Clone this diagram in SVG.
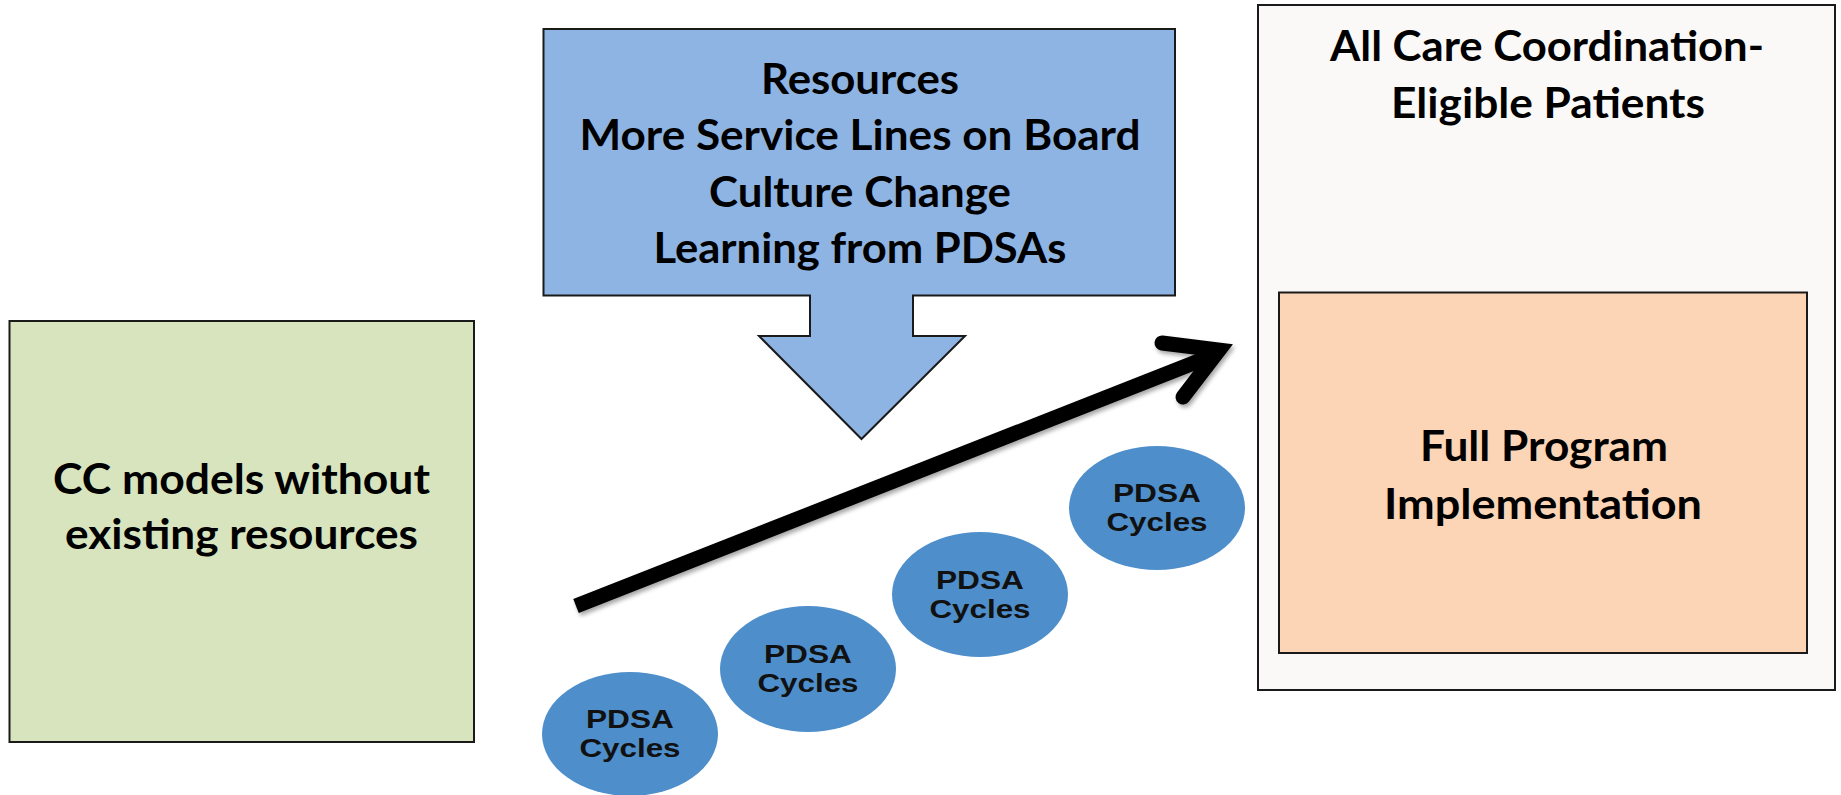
<svg xmlns="http://www.w3.org/2000/svg" width="1841" height="795" viewBox="0 0 1841 795">
<style>
.box{stroke:#1a1a1a;stroke-width:2}
.cal{font-family:Lato,"Open Sans","Liberation Sans",sans-serif;font-weight:bold;font-size:42px;fill:#000;text-anchor:middle}
.pdsa{fill:#4E8FCB}
.pt{font-family:"Liberation Sans",Arial,sans-serif;font-weight:bold;font-size:26px;fill:#111;text-anchor:middle}
</style>
<defs>
<filter id="sh" x="-10%" y="-10%" width="120%" height="130%">
<feDropShadow dx="2" dy="3" stdDeviation="2" flood-color="#000" flood-opacity="0.35"/>
</filter>
</defs>
<rect width="1841" height="795" fill="#fff"/>

<g id="start">
<rect class="box" x="9.5" y="321" width="464.5" height="421" fill="#D7E4BD"/>
<text class="cal" x="241.5" y="494" textLength="377" lengthAdjust="spacingAndGlyphs">CC models without</text>
<text class="cal" x="241.5" y="549" textLength="353" lengthAdjust="spacingAndGlyphs">existing resources</text>
</g>

<g id="resources">
<path class="box" d="M543.5,29 H1175 V295.5 H913 V336 H965 L861.5,439 L759,336 H810 V295.5 H543.5 Z" fill="#8EB4E3" stroke-width="1.8"/>
<text class="cal" x="860" y="94" textLength="198" lengthAdjust="spacingAndGlyphs">Resources</text>
<text class="cal" x="860" y="150" textLength="561" lengthAdjust="spacingAndGlyphs">More Service Lines on Board</text>
<text class="cal" x="860" y="207" textLength="302" lengthAdjust="spacingAndGlyphs">Culture Change</text>
<text class="cal" x="860" y="263" textLength="413" lengthAdjust="spacingAndGlyphs">Learning from PDSAs</text>
</g>

<g id="all-patients">
<rect class="box" x="1258" y="5" width="577" height="685" fill="#FAF9F7"/>
<text class="cal" x="1547" y="61" textLength="434" lengthAdjust="spacingAndGlyphs">All Care Coordination-</text>
<text class="cal" x="1548" y="118" textLength="314" lengthAdjust="spacingAndGlyphs">Eligible Patients</text>
</g>

<g id="full-program">
<rect class="box" x="1279" y="292.5" width="528" height="360.5" fill="#FBD5B5"/>
<text class="cal" x="1544" y="461" textLength="248" lengthAdjust="spacingAndGlyphs">Full Program</text>
<text class="cal" x="1543" y="519" textLength="318" lengthAdjust="spacingAndGlyphs">Implementation</text>
</g>

<g id="pdsa1">
<ellipse class="pdsa" cx="630" cy="734" rx="88" ry="62"/>
<text class="pt" x="630" y="728" textLength="88" lengthAdjust="spacingAndGlyphs">PDSA</text>
<text class="pt" x="630" y="757" textLength="101" lengthAdjust="spacingAndGlyphs">Cycles</text>
</g>
<g id="pdsa2">
<ellipse class="pdsa" cx="808" cy="669" rx="88" ry="63"/>
<text class="pt" x="808" y="663" textLength="88" lengthAdjust="spacingAndGlyphs">PDSA</text>
<text class="pt" x="808" y="692" textLength="101" lengthAdjust="spacingAndGlyphs">Cycles</text>
</g>
<g id="pdsa3">
<ellipse class="pdsa" cx="980" cy="594.5" rx="88" ry="62.5"/>
<text class="pt" x="980" y="588.5" textLength="88" lengthAdjust="spacingAndGlyphs">PDSA</text>
<text class="pt" x="980" y="617.5" textLength="101" lengthAdjust="spacingAndGlyphs">Cycles</text>
</g>
<g id="pdsa4">
<ellipse class="pdsa" cx="1157" cy="508" rx="88" ry="62"/>
<text class="pt" x="1157" y="502" textLength="88" lengthAdjust="spacingAndGlyphs">PDSA</text>
<text class="pt" x="1157" y="531" textLength="101" lengthAdjust="spacingAndGlyphs">Cycles</text>
</g>

<g id="connectors" filter="url(#sh)">
<line x1="576" y1="606" x2="1214" y2="355" stroke="#000" stroke-width="15" stroke-linecap="butt"/>
<path d="M1162,343 L1219,350 L1183,397" fill="none" stroke="#000" stroke-width="15" stroke-linecap="round" stroke-linejoin="miter"/>
</g>
</svg>
